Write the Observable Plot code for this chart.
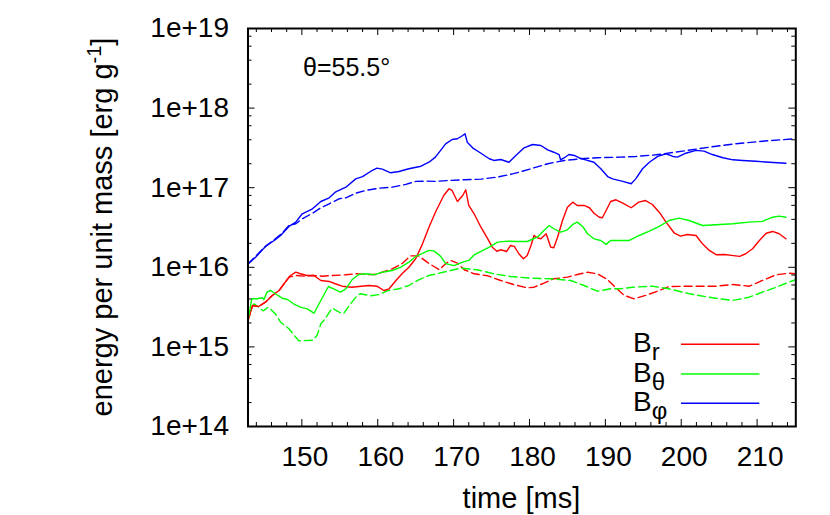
<!DOCTYPE html>
<html>
<head>
<meta charset="utf-8">
<script src="https://cdn.jsdelivr.net/npm/d3@7"></script>
<script src="https://cdn.jsdelivr.net/npm/@observablehq/plot@0.6"></script>
<style>
  html, body { margin: 0; padding: 0; background: #fff; }
  #chart svg { display: block; }
</style>
</head>
<body>
<div id="chart"></div>
<script>
// ---- data: [time (ms), energy per unit mass (erg/g)] ----
const brSolid = [[142.9,2.15e15],[143.5,3.31e15],[144.3,3.22e15],[145.2,3.65e15],[146.1,4.43e15],[147.0,5.11e15],[147.8,6.5e15],[148.5,7.89e15],[149.2,8.68e15],[149.8,8.29e15],[150.7,7.89e15],[151.6,7.89e15],[152.5,6.83e15],[153.6,6.64e15],[154.4,6.21e15],[155.3,5.79e15],[156.6,5.62e15],[157.5,5.74e15],[158.8,5.91e15],[159.9,5.79e15],[160.8,5.11e15],[161.5,5.37e15],[162.4,6.83e15],[163.2,8.29e15],[164.1,1.0e16],[165.0,1.28e16],[165.9,1.97e16],[166.75,3.19e16],[167.6,4.92e16],[168.7,7.98e16],[169.4,9.69e16],[169.8,9.23e16],[170.5,6.71e16],[171.2,7.98e16],[171.6,9.42e16],[172.0,5.98e16],[172.7,4.7e16],[173.6,3.19e16],[174.5,2.28e16],[175.1,1.79e16],[175.7,1.59e16],[176.2,1.66e16],[177.0,1.58e16],[177.5,1.88e16],[178.0,1.83e16],[178.6,1.48e16],[179.2,1.28e16],[179.7,1.41e16],[180.2,1.88e16],[180.6,2.51e16],[181.05,2.35e16],[181.5,2.28e16],[182.2,2.64e16],[182.8,1.79e16],[183.2,1.76e16],[183.7,2.39e16],[184.35,3.87e16],[185.0,5.69e16],[185.7,6.58e16],[186.3,5.98e16],[187.2,5.98e16],[187.9,5.6e16],[188.5,4.78e16],[189.2,4.26e16],[189.6,4.19e16],[190.1,5.17e16],[190.7,6.71e16],[191.4,7.05e16],[192.3,6.39e16],[193.4,5.6e16],[194.4,6.58e16],[195.3,6.9e16],[196.2,6.15e16],[197.1,4.92e16],[198.0,3.69e16],[199.1,2.68e16],[199.9,2.46e16],[200.8,2.58e16],[201.95,2.51e16],[202.8,1.97e16],[203.7,1.63e16],[204.6,1.44e16],[205.7,1.45e16],[206.6,1.41e16],[207.7,1.37e16],[208.5,1.48e16],[209.4,1.71e16],[210.3,2.17e16],[211.2,2.68e16],[212.05,2.82e16],[212.9,2.64e16],[213.8,2.28e16]];

const brDashed = [[142.9,2.15e15],[143.5,3.31e15],[144.3,3.22e15],[145.2,3.65e15],[146.1,4.43e15],[147.0,5.11e15],[148.3,7.52e15],[149.2,7.89e15],[150.5,7.73e15],[151.4,7.89e15],[152.7,7.73e15],[154.0,7.89e15],[155.8,8.05e15],[157.1,8.29e15],[158.4,8.12e15],[159.7,8.12e15],[160.6,8.68e15],[161.9,9.57e15],[163.2,1.11e16],[164.3,1.39e16],[165.4,1.39e16],[166.5,1.16e16],[168.1,9.31e15],[168.95,1.11e16],[169.6,1.22e16],[170.5,1.13e16],[171.4,9.31e15],[172.7,8.29e15],[174.5,7.82e15],[176.2,6.83e15],[177.9,6.08e15],[179.7,5.53e15],[180.6,5.62e15],[181.9,6.32e15],[183.2,7.18e15],[185.0,7.52e15],[186.3,8.12e15],[187.65,8.68e15],[188.95,8.29e15],[190.3,6.97e15],[191.4,5.5e15],[192.5,4.43e15],[193.8,4.02e15],[195.3,4.43e15],[197.1,5.11e15],[198.4,5.74e15],[201.05,5.79e15],[204.6,5.79e15],[206.8,6.08e15],[209.0,5.79e15],[210.7,6.83e15],[212.5,8.05e15],[214.2,8.43e15],[215.0,8.29e15]];

const bthSolid = [[142.9,2.15e15],[143.4,4.02e15],[144.1,4.02e15],[144.8,4.14e15],[145.0,3.94e15],[145.4,4.87e15],[145.9,5.11e15],[146.5,4.65e15],[147.4,4.09e15],[148.1,3.94e15],[148.9,3.48e15],[149.8,3.16e15],[150.7,3.01e15],[151.6,2.65e15],[152.5,3.83e15],[153.5,5.74e15],[154.2,5.37e15],[155.1,4.87e15],[155.8,5.37e15],[156.6,6.97e15],[157.5,8.12e15],[158.4,8.29e15],[159.5,8.05e15],[160.6,8.68e15],[161.9,9.12e15],[163.0,1.0e16],[164.1,1.16e16],[165.0,1.37e16],[165.9,1.5e16],[166.75,1.63e16],[167.4,1.61e16],[168.3,1.37e16],[168.95,1.11e16],[170.05,1.05e16],[171.2,1.16e16],[172.0,1.22e16],[172.7,1.43e16],[173.6,1.59e16],[174.7,1.79e16],[175.8,2.07e16],[177.1,2.13e16],[178.4,2.11e16],[179.7,2.11e16],[180.6,2.3e16],[181.05,2.39e16],[181.9,2.9e16],[182.6,3.35e16],[183.2,3.05e16],[184.1,2.76e16],[185.0,2.96e16],[185.7,3.45e16],[186.3,3.69e16],[187.0,3.26e16],[187.65,2.64e16],[188.5,2.28e16],[189.4,2.17e16],[190.1,1.94e16],[190.7,2.17e16],[191.6,2.17e16],[193.1,2.17e16],[194.45,2.51e16],[195.8,2.84e16],[197.1,3.26e16],[198.4,3.87e16],[199.7,4.14e16],[201.05,3.87e16],[202.8,3.35e16],[204.6,3.42e16],[206.8,3.52e16],[208.95,3.69e16],[210.7,3.77e16],[212.05,4.26e16],[212.9,4.39e16],[213.8,4.26e16]];

const bthDashed = [[142.9,2.36e15],[143.7,3.48e15],[144.9,2.84e15],[145.6,3.16e15],[146.5,2.61e15],[147.2,2.04e15],[148.3,1.69e15],[149.2,1.32e15],[149.6,1.19e15],[151.4,1.21e15],[152.0,1.39e15],[152.5,1.95e15],[152.9,2.15e15],[154.0,3.08e15],[154.9,2.73e15],[155.5,2.63e15],[156.6,3.65e15],[157.3,4.43e15],[157.7,4.65e15],[159.1,4.39e15],[160.2,4.55e15],[161.3,5.11e15],[162.8,5.37e15],[164.1,5.91e15],[165.4,6.97e15],[166.75,7.89e15],[167.75,8.29e15],[169.6,9.12e15],[170.9,9.75e15],[173.1,9.31e15],[175.3,8.29e15],[177.5,7.67e15],[180.2,7.3e15],[182.8,7.18e15],[185.4,6.83e15],[187.2,5.91e15],[188.95,5.01e15],[190.7,5.37e15],[192.0,5.37e15],[193.6,5.62e15],[196.2,5.79e15],[198.4,5.37e15],[201.05,4.65e15],[204.1,4.14e15],[206.8,3.83e15],[208.95,4.21e15],[210.7,4.87e15],[212.5,5.62e15],[214.2,6.5e15],[215.0,6.97e15]];

const bphSolid = [[142.9,1.1e16],[143.9,1.34e16],[145.2,1.83e16],[146.5,2.22e16],[147.2,2.51e16],[148.3,3.26e16],[149.2,3.69e16],[150.05,4.7e16],[151.4,5.43e16],[152.5,6.71e16],[153.6,7.47e16],[154.4,8.79e16],[155.8,1.015e17],[157.1,1.29e17],[158.0,1.38e17],[159.1,1.61e17],[159.9,1.76e17],[160.6,1.71e17],[161.7,1.54e17],[162.8,1.6e17],[164.1,1.73e17],[165.7,1.86e17],[166.75,2.09e17],[167.6,2.42e17],[168.95,3.56e17],[169.8,4.03e17],[170.5,4.12e17],[171.2,4.53e17],[171.5,4.76e17],[171.8,3.73e17],[172.5,3.17e17],[173.6,2.71e17],[174.7,2.31e17],[175.3,2.2e17],[176.2,2.26e17],[177.3,2.09e17],[178.2,2.54e17],[179.3,3.17e17],[180.4,3.49e17],[181.5,3.39e17],[182.4,2.99e17],[183.2,2.79e17],[183.9,2.61e17],[184.1,2.24e17],[184.6,2.38e17],[185.2,2.61e17],[185.9,2.54e17],[186.5,2.38e17],[187.4,2.24e17],[188.5,2.09e17],[189.4,1.73e17],[190.3,1.38e17],[190.95,1.29e17],[192.3,1.2e17],[193.4,1.12e17],[194.0,1.29e17],[194.9,1.73e17],[195.8,2.09e17],[196.9,2.47e17],[198.0,2.67e17],[198.9,2.47e17],[199.5,2.42e17],[200.6,2.71e17],[201.95,2.94e17],[203.0,2.88e17],[204.1,2.61e17],[205.5,2.38e17],[206.8,2.24e17],[208.1,2.2e17],[209.85,2.15e17],[211.6,2.09e17],[213.8,2.03e17]];

const bphDashed = [[142.9,1.1e16],[145.2,1.83e16],[146.5,2.28e16],[147.4,2.68e16],[148.3,3.35e16],[149.2,3.52e16],[150.05,4.07e16],[151.4,4.78e16],[152.5,5.6e16],[153.6,6.28e16],[154.9,7.26e16],[155.8,7.47e16],[157.1,8.53e16],[158.4,9.23e16],[160.2,9.86e16],[161.9,1.015e17],[163.7,1.1e17],[165.0,1.2e17],[166.3,1.21e17],[167.6,1.2e17],[169.2,1.23e17],[171.4,1.26e17],[173.6,1.28e17],[175.8,1.36e17],[177.9,1.5e17],[180.2,1.73e17],[182.4,2.0e17],[184.6,2.2e17],[186.8,2.31e17],[188.95,2.38e17],[192.0,2.42e17],[194.0,2.47e17],[196.7,2.59e17],[200.2,2.88e17],[203.7,3.23e17],[207.2,3.56e17],[210.7,3.84e17],[215.0,4.12e17]];

// ---- axes / ticks ----
const xDomain = [142.9, 215.1];
const yDomain = [1e14, 1e19];
const xMajor = [150, 160, 170, 180, 190, 200, 210];
const xTickLabels = ["150", "160", "170", "180", "190", "200", "210"];
const xMinor = [144,146,148,152,154,156,158,162,164,166,168,172,174,176,178,182,184,186,188,192,194,196,198,202,204,206,208,212,214];
const yMajor = [1e14, 1e15, 1e16, 1e17, 1e18, 1e19];
const yTickLabels = ["1e+14", "1e+15", "1e+16", "1e+17", "1e+18", "1e+19"];
const yMinorMult = [2, 4, 6, 8];
const yMinor = yMajor.slice(0, 5).flatMap(d => yMinorMult.map(m => m * d));

const xTitle = "time [ms]";
const yTitle = "energy per unit mass [erg g";
const ySup = "-1";
const annotation = "θ=55.5°";
const legendNames = ["r", "θ", "φ"];
const colors = ["#ff0000", "#00ff00", "#0000ff"];

// ---- layout ----
const W = 830, H = 515;
const mL = 247.5, mR = 34.7, mT = 28, mB = 89;
const pw = W - mL - mR, ph = H - mT - mB;
const font = "'Liberation Sans', Arial, Helvetica, sans-serif";

const lineOpts = (c, dashed) => ({
  x: d => d[0], y: d => d[1], stroke: c, strokeWidth: 1.4,
  strokeDasharray: dashed ? "8,4" : null
});

const chart = Plot.plot({
  width: W, height: H,
  marginLeft: mL, marginRight: mR, marginTop: mT, marginBottom: mB,
  style: { fontFamily: font, fontSize: "28px", color: "black", background: "white", overflow: "visible" },
  x: { domain: xDomain, ticks: xMajor, tickSize: 0, tickPadding: 20,
       tickFormat: d => xTickLabels[xMajor.indexOf(d)], label: null },
  y: { type: "log", domain: yDomain, ticks: yMajor, tickSize: 0, tickPadding: 19,
       tickFormat: d => yTickLabels[yMajor.indexOf(d)], label: null },
  marks: [
    Plot.line(brDashed, lineOpts(colors[0], true)),
    Plot.line(bthDashed, lineOpts(colors[1], true)),
    Plot.line(bphDashed, lineOpts(colors[2], true)),
    Plot.line(brSolid, lineOpts(colors[0], false)),
    Plot.line(bthSolid, lineOpts(colors[1], false)),
    Plot.line(bphSolid, lineOpts(colors[2], false)),
    // inward ticks, all four sides
    Plot.tickX(xMajor, { x: d => d, insetTop: ph - 7, stroke: "black" }),
    Plot.tickX(xMajor, { x: d => d, insetBottom: ph - 7, stroke: "black" }),
    Plot.tickX(xMinor, { x: d => d, insetTop: ph - 4, stroke: "black" }),
    Plot.tickX(xMinor, { x: d => d, insetBottom: ph - 4, stroke: "black" }),
    Plot.tickY(yMajor, { y: d => d, insetRight: pw - 7, stroke: "black" }),
    Plot.tickY(yMajor, { y: d => d, insetLeft: pw - 7, stroke: "black" }),
    Plot.tickY(yMinor, { y: d => d, insetRight: pw - 4, stroke: "black" }),
    Plot.tickY(yMinor, { y: d => d, insetLeft: pw - 4, stroke: "black" }),
    Plot.frame({ stroke: "black", strokeWidth: 2 })
  ]
});

document.getElementById("chart").appendChild(chart);

// nudge x tick labels slightly right, as in the reference
d3.select(chart).selectAll('[aria-label="x-axis tick label"]').each(function () {
  const t = this.getAttribute("transform") || "";
  this.setAttribute("transform", "translate(3,0) " + t);
});

// ---- annotations (text + legend) ----
const svg = d3.select(chart);
const g = svg.append("g").attr("font-family", font).attr("fill", "black").attr("text-anchor", "start");

// y title
const yt = g.append("text")
  .attr("transform", `translate(112,${mT + ph / 2}) rotate(-90)`)
  .attr("text-anchor", "middle").attr("font-size", 29);
yt.append("tspan").text(yTitle);
yt.append("tspan").attr("dy", -11).attr("font-size", 20).text(ySup);
yt.append("tspan").attr("dy", 11).text("]");

// x title
g.append("text").attr("x", mL + pw / 2).attr("y", 508)
  .attr("text-anchor", "middle").attr("font-size", 29).text(xTitle);

// theta annotation
g.append("text").attr("x", 303).attr("y", 76).attr("text-anchor", "start")
  .attr("font-size", 25).text(annotation);

// legend
const legY = [344.3, 374, 403.3];
legendNames.forEach((n, i) => {
  const y = legY[i];
  const t = g.append("text").attr("x", 633).attr("y", y + 7.5)
    .attr("text-anchor", "start").attr("font-size", 28);
  t.append("tspan").text("B");
  t.append("tspan").attr("dy", 8.5).attr("font-size", 24).text(n);
  g.append("line").attr("x1", 681).attr("x2", 759.3).attr("y1", y).attr("y2", y)
    .attr("stroke", colors[i]).attr("stroke-width", 1.4);
});
</script>
</body>
</html>
